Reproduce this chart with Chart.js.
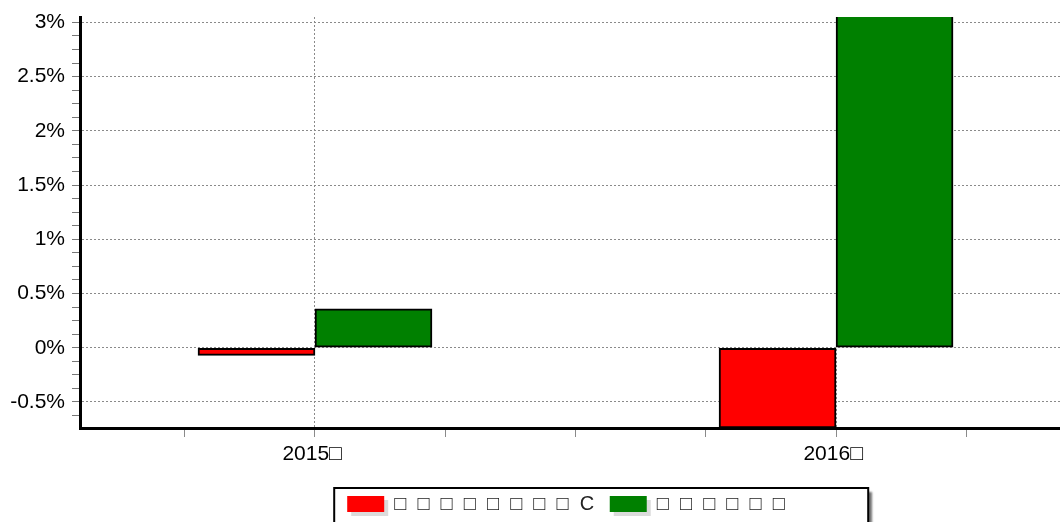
<!DOCTYPE html>
<html>
<head>
<meta charset="utf-8">
<script src="https://cdn.jsdelivr.net/npm/chart.js@4.4.1/dist/chart.umd.min.js"></script>
<style>
  html, body { margin: 0; padding: 0; background: #fff; overflow: hidden; }
  #wrap { width: 1132px; height: 540px; }
</style>
</head>
<body>
<div id="wrap"><canvas id="chart" width="1132" height="540"></canvas></div>
<script>
/**
 * Two-series bar chart (2015 / 2016), percent axis.
 * The legend text in the source rendered as missing-glyph boxes, kept as □.
 */
var years = [2015, 2016];
var seriesNames = ['□  □  □  □  □  □  □  □  C ', '□  □  □  □  □  □'];
var redValues = [-0.07, -0.74];
var greenValues = [0.36, 3.1];
var yRange = [-0.74, 3.05];
var xRange = [2014.549, 2016.568];

var GRID = '#8a8a8a';

function isYear(v) { return Math.abs(v - Math.round(v)) < 1e-6; }
function isMajor(v) { return Math.abs(v * 2 - Math.round(v * 2)) < 1e-6; }

function toPoints(values) {
    return values.map(function(v, i) { return { x: years[i], y: v }; });
}

/**
 * Framed legend box with a drop shadow, plus soft shadows under the swatches.
 */
var legendFrame = {
    id: 'legendFrame',
    beforeDraw: function(chart) {
        var legend = chart.legend;
        if (!legend || !legend.legendHitBoxes || !legend.legendHitBoxes.length) return;
        var ctx = chart.ctx;
        var boxes = legend.legendHitBoxes;
        var left = boxes[0].left - 13;
        var top = legend.top + 4;
        var w = 534, h = chart.height - top + 20;

        ctx.save();
        ctx.shadowColor = 'rgba(0,0,0,0.55)';
        ctx.shadowOffsetX = 4;
        ctx.shadowOffsetY = 4;
        ctx.shadowBlur = 2;
        ctx.fillStyle = '#fff';
        ctx.fillRect(left, top, w, h);
        ctx.shadowColor = 'rgba(0,0,0,0)';
        ctx.lineWidth = 2;
        ctx.strokeStyle = '#000';
        ctx.strokeRect(left, top, w, h);

        ctx.fillStyle = 'rgba(0,0,0,0.14)';
        boxes.forEach(function(b) {
            ctx.fillRect(b.left + 4, b.top + 2 + 4, 37, 16);
        });
        ctx.restore();
    }
};

Chart.defaults.font.family = '"Liberation Sans", Arial, sans-serif';
Chart.defaults.color = '#000';

new Chart(document.getElementById('chart').getContext('2d'), {
    type: 'bar',
    data: {
        datasets: [{
            label: seriesNames[0],
            data: toPoints(redValues),
            backgroundColor: '#ff0000'
        }, {
            label: seriesNames[1],
            data: toPoints(greenValues),
            backgroundColor: '#008000'
        }]
    },
    options: {
        responsive: false,
        animation: false,
        events: [],
        layout: { padding: { top: 17, right: 0, bottom: 16, left: 0 } },
        datasets: {
            bar: {
                barThickness: 117,
                borderColor: '#000',
                borderWidth: 2,
                borderSkipped: false,
                clip: 0
            }
        },
        plugins: {
            tooltip: { enabled: false },
            legend: {
                position: 'bottom',
                labels: {
                    boxWidth: 37,
                    boxHeight: 16,
                    padding: 10,
                    color: '#222',
                    font: { size: 20 },
                    generateLabels: function(chart) {
                        var items = Chart.defaults.plugins.legend.labels.generateLabels(chart);
                        items.forEach(function(it) {
                            it.lineWidth = 0;
                            it.strokeStyle = it.fillStyle;
                        });
                        return items;
                    }
                }
            }
        },
        scales: {
            x: {
                type: 'linear',
                min: xRange[0],
                max: xRange[1],
                offset: false,
                afterFit: function(s) { s.height = 56; s.paddingLeft = 0; s.paddingRight = 0; },
                ticks: {
                    stepSize: 0.25,
                    includeBounds: false,
                    autoSkip: false,
                    maxRotation: 0,
                    padding: 5,
                    font: { size: 21 },
                    callback: function(v) { return isYear(v) ? Math.round(v) + '□ ' : ''; }
                },
                grid: {
                    offset: false,
                    color: function(c) { return c.tick && isYear(c.tick.value) ? GRID : 'rgba(0,0,0,0)'; },
                    tickColor: GRID,
                    tickLength: 9,
                    lineWidth: 1
                },
                border: { color: '#000', width: 3, dash: [2, 2] }
            },
            y: {
                min: yRange[0],
                max: yRange[1],
                afterFit: function(s) { s.width = 80; s.paddingTop = 0; s.paddingBottom = 0; },
                ticks: {
                    stepSize: 0.125,
                    includeBounds: false,
                    autoSkip: false,
                    padding: 7,
                    font: { size: 21 },
                    callback: function(v) { return isMajor(v) ? v + '%' : ''; }
                },
                grid: {
                    color: function(c) { return c.tick && isMajor(c.tick.value) ? GRID : 'rgba(0,0,0,0)'; },
                    tickColor: '#777',
                    tickLength: 8,
                    lineWidth: 1
                },
                border: { color: '#000', width: 3, dash: [2, 2] }
            }
        }
    },
    plugins: [legendFrame]
});
</script>
</body>
</html>
